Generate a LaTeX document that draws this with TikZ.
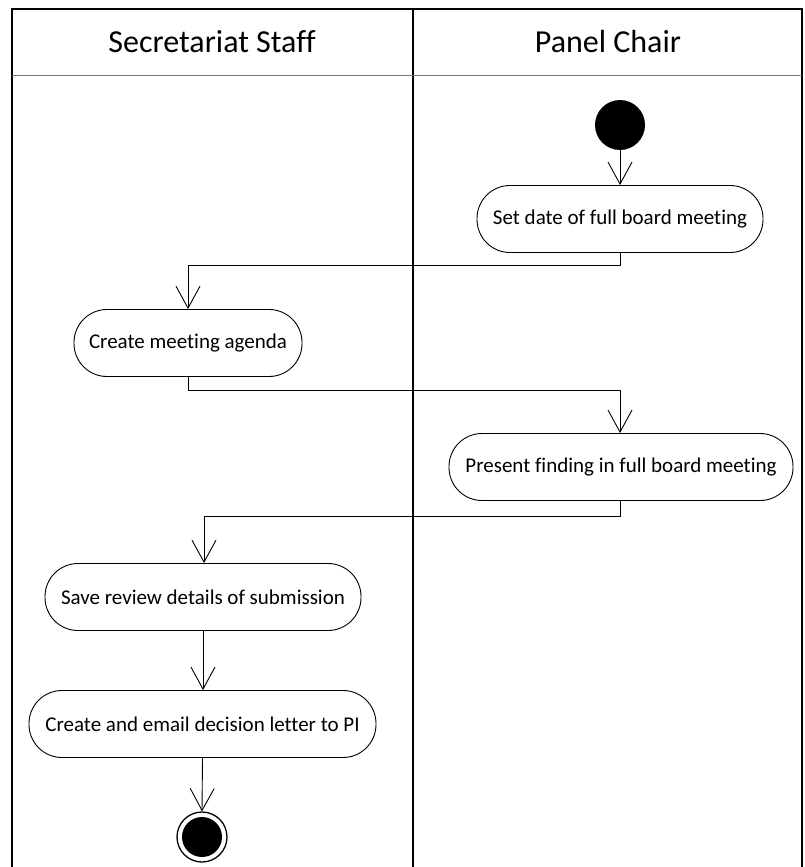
\documentclass[tikz,border=0pt]{standalone}
\usepackage{fontspec}
\setmainfont{Carlito}[Ligatures=NoCommon]
\usetikzlibrary{arrows.meta}
\begin{document}
\begin{tikzpicture}[x=1pt,y=-1pt,
  act/.style={draw,line width=0.9pt,rounded corners=33pt,minimum height=67pt,inner sep=0pt,font=\fontsize{21}{24}\selectfont,fill=white},
  flow/.style={line width=0.9pt,-{Straight Barb[length=22pt,width=24pt,line width=0.9pt]}},
  plain/.style={line width=0.9pt},
  lane/.style={line width=2pt},
  hdr/.style={font=\fontsize{32}{36}\selectfont}]
\useasboundingbox (0,0) rectangle (804,867);
\clip (0,0) rectangle (804,867);
% swimlanes
\draw[lane] (12,880) -- (12,9) -- (802,9) -- (802,880);
\draw[lane] (413,9) -- (413,880);
\draw[line width=0.8pt,black!55] (12,75) -- (802,75);
\node[hdr] (h1) at (212,42) {Secretariat Staff};
\node[hdr] (h2) at (608,42) {Panel Chair};
% nodes
\node[circle,fill=black,minimum size=50pt,inner sep=0pt] (start) at (620,125) {};
\node[act,minimum width=286pt] (a1) at (620,219) {Set date of full board meeting};
\node[act,minimum width=228pt] (a2) at (188,343) {Create meeting agenda};
\node[act,minimum width=344pt] (a3) at (621,467) {Present finding in full board meeting};
\node[act,minimum width=316pt] (a4) at (203,597) {Save review details of submission};
\node[act,minimum width=347pt] (a5) at (202.5,724) {Create and email decision letter to PI};
\node[circle,draw,line width=1.3pt,minimum size=50pt,inner sep=0pt] (end) at (202,837) {};
\node[circle,fill=black,minimum size=40pt,inner sep=0pt] (endin) at (end.center) {};
\coordinate (c1) at (620,265);
\coordinate (c2) at (188,265);
\coordinate (c3) at (188,390);
\coordinate (c4) at (620,390);
\coordinate (c5) at (620,516);
\coordinate (c6) at (204,516);
% connectors
\draw[flow] (start.south) -- (a1.north);
\draw[plain] (a1.south) -- (c1) -- (c2);
\draw[flow] (c2) -- (a2.north);
\draw[plain] (a2.south) -- (c3) -- (c4);
\draw[flow] (c4) -- (a3.north -| c4);
\draw[plain] (a3.south -| c5) -- (c5) -- (c6);
\draw[flow] (c6) -- (a4.north -| c6);
\draw[flow] (a4.south) -- (a5.north -| a4.south);
\draw[flow] (a5.south) -- (end.north);
\end{tikzpicture}
\end{document}
